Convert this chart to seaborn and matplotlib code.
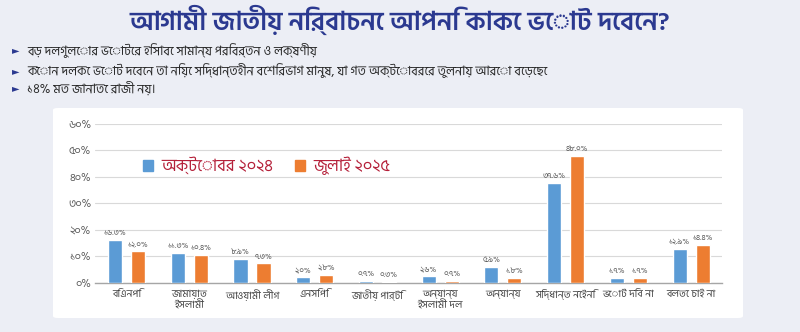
import matplotlib
matplotlib.use('Agg', force=True)
import matplotlib.pyplot as plt
from matplotlib import font_manager as fm
from matplotlib.patches import FancyBboxPatch
import seaborn as sns
import pandas as pd
import glob

# register the Bengali fonts in case the cache missed them
for f in glob.glob("/usr/share/fonts/truetype/google-fonts/HindSiliguri-*.ttf"):
    fm.fontManager.addfont(f)

# data
categories = [
    "বিএনপি", "জামায়াত\nইসলামী", "আওয়ামী লীগ", "এনসিপি", "জাতীয় পার্টি",
    "অন্যান্য\nইসলামী দল", "অন্যান্য", "সিদ্ধান্ত নেইনি", "ভোট দিব না", "বলতে চাই না",
]
oct_2024 = [16.3, 11.3, 8.9, 2.0, 0.7, 2.6, 5.9, 37.6, 1.7, 12.9]
jul_2025 = [12.0, 10.4, 7.3, 2.8, 0.3, 0.7, 1.8, 48.0, 1.7, 14.4]
series_names = ["অক্টোবর ২০২৪", "জুলাই ২০২৫"]
y_ticks = [0, 10, 20, 30, 40, 50, 60]

title = "আগামী জাতীয় নির্বাচনে আপনি কাকে ভোট দেবেন?"
bullets = [
    "বড় দলগুলোর ভোটের হিসাবে সামান্য পরিবর্তন ও লক্ষণীয়",
    "কোন দলকে ভোট দেবেন তা নিয়ে সিদ্ধান্তহীন বেশিরভাগ মানুষ, যা গত অক্টোবরের তুলনায় আরো বেড়েছে",
    "১৪% মত জানাতে রাজী নয়।",
]

BN_DIGITS = str.maketrans("0123456789", "০১২৩৪৫৬৭৮৯")


def bn(s):
    return s.translate(BN_DIGITS)


df = pd.DataFrame({
    "category": categories * 2,
    "period": [series_names[0]] * len(categories) + [series_names[1]] * len(categories),
    "value": oct_2024 + jul_2025,
})

colors = ["#5b9bd5", "#ed7d31"]

sns.set_theme(style="white")
plt.rcParams["font.family"] = ["Hind Siliguri", "DejaVu Sans"]

fig = plt.figure(figsize=(8, 3.32), dpi=100, facecolor="#eceef5")

# white chart panel, kept behind the axes
panel = FancyBboxPatch((53 / 800, 1 - 318 / 332), 690 / 800, 210 / 332,
                       boxstyle="round,pad=0,rounding_size=0.006",
                       transform=fig.transFigure, facecolor="white",
                       edgecolor="none", zorder=-5)
fig.patches.append(panel)

ax = fig.add_axes([0.119, 0.1485, 0.784, 0.478])
ax.set_facecolor("none")
ax.set_zorder(2)

sns.barplot(data=df, x="category", y="value", hue="period", order=categories,
            hue_order=series_names, palette=colors, saturation=1,
            width=0.734, gap=0.39, ax=ax, legend=False, zorder=3)

for cont in ax.containers:
    ax.bar_label(cont, labels=[bn(f"{v:.1f}%") for v in cont.datavalues],
                 padding=2, fontsize=5.8, color="#595959")

ax.set_ylim(0, 60)
ax.set_xlim(-0.5, len(categories) - 0.5)
ax.set_yticks(y_ticks)
ax.set_yticklabels([bn(f"{t}%") for t in y_ticks], fontsize=8, color="#595959")
ax.set_xticks(range(len(categories)))
ax.set_xticklabels(categories, fontsize=7.5, color="#404040", linespacing=1.25)
ax.tick_params(axis="x", length=0, pad=5)
ax.tick_params(axis="y", length=0, pad=3)
ax.set_xlabel("")
ax.set_ylabel("")
ax.grid(axis="y", color="#d9d9d9", linewidth=0.8, zorder=0)
ax.set_axisbelow(True)
for side in ["top", "right", "left"]:
    ax.spines[side].set_visible(False)
ax.spines["bottom"].set_color("#a6a6a6")
ax.spines["bottom"].set_linewidth(1.0)

# legend drawn inside the plot like the reference
handles = [plt.Rectangle((0, 0), 1, 1, color=c) for c in colors]
leg = ax.legend(handles, series_names, loc="center left", bbox_to_anchor=(0.052, 0.735),
                ncol=2, frameon=False, fontsize=12, handlelength=0.6, handleheight=0.6,
                handletextpad=0.5, columnspacing=1.3)
for t in leg.get_texts():
    t.set_color("#b5213a")

# title and bullet notes
fig.text(0.5, 1 - 20 / 332, title, ha="center", va="center", fontsize=19,
         color="#2b3990", fontweight="semibold")
for yy, txt in zip([50, 71, 88], bullets):
    fig.text(12 / 800, 1 - yy / 332, "►", ha="left", va="center", fontsize=7,
             color="#2b3990", family="DejaVu Sans")
    fig.text(27 / 800, 1 - yy / 332, txt, ha="left", va="center", fontsize=9,
             color="#262626")

fig.savefig("out.png", dpi=100, facecolor=fig.get_facecolor())
